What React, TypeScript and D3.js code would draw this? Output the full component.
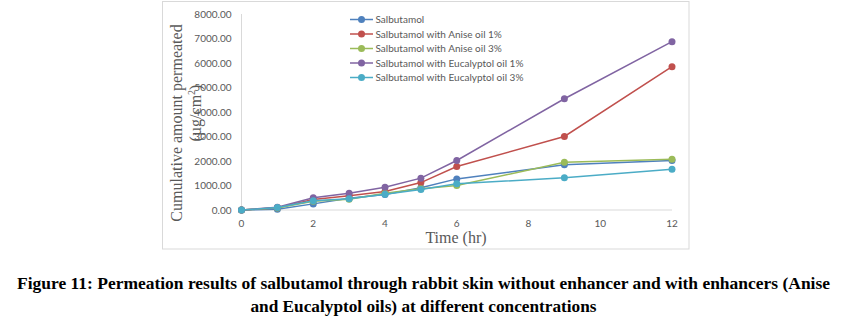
import React from "react";
import * as d3 from "d3";

const times = [0, 1, 2, 3, 4, 5, 6, 9, 12];
const seriesNames = [
  "Salbutamol",
  "Salbutamol with Anise oil 1%",
  "Salbutamol with Anise oil 3%",
  "Salbutamol with Eucalyptol oil 1%",
  "Salbutamol with Eucalyptol oil 3%",
];
const salbutamol = [0, 30, 250, 480, 630, 905, 1270, 1845, 2020];
const anise1 = [0, 90, 430, 580, 755, 1120, 1775, 3000, 5850];
const anise3 = [0, 80, 360, 440, 685, 865, 1000, 1950, 2070];
const euc1 = [0, 110, 500, 685, 930, 1300, 2020, 4540, 6870];
const euc3 = [0, 100, 375, 455, 645, 835, 1070, 1315, 1665];
const seriesValues = [salbutamol, anise1, anise3, euc1, euc3];
const colors = ["#4F81BD", "#C0504D", "#9BBB59", "#8064A2", "#4BACC6"];
const yTicks = [0, 1000, 2000, 3000, 4000, 5000, 6000, 7000, 8000];
const xTicks = [0, 2, 4, 6, 8, 10, 12];
const captionLines = [
  "Figure 11: Permeation results of salbutamol through rabbit skin without enhancer and with enhancers (Anise",
  "and Eucalyptol oils) at different concentrations",
];

export default function App() {
  const x = d3.scaleLinear().domain([0, 12]).range([241.5, 672]);
  const y = d3.scaleLinear().domain([0, 8000]).range([210, 14]);
  const line = d3
    .line<number>()
    .x((_, i) => x(times[i]))
    .y((d) => y(d));
  const tickFont = "Lato, 'Open Sans', sans-serif";
  return (
    <svg
      width={847}
      height={323}
      style={{ position: "absolute", left: 0, top: 0, background: "#fff" }}
    >
      <rect x={162.5} y={1.5} width={526.5} height={247.5} fill="#fff" stroke="#d9d9d9" strokeWidth={1} />
      <line x1={x(0)} x2={x(0)} y1={y(8000)} y2={y(0)} stroke="#d9d9d9" />
      <line x1={x(0)} x2={x(12)} y1={y(0)} y2={y(0)} stroke="#d9d9d9" />
      {yTicks.map((t) => (
        <text key={t} x={231.5} y={y(t)} dy="0.35em" textAnchor="end" fontSize={10} fill="#595959" fontFamily={tickFont}>
          {t.toFixed(2)}
        </text>
      ))}
      {xTicks.map((t) => (
        <text key={t} x={x(t)} y={223} dy="0.35em" textAnchor="middle" fontSize={10} fill="#595959" fontFamily={tickFont}>
          {t}
        </text>
      ))}
      <text x={456} y={243} textAnchor="middle" fontSize={16} fill="#595959" fontFamily="'Liberation Serif', serif">
        Time (hr)
      </text>
      <text transform="translate(182,123) rotate(-90)" textAnchor="middle" fontSize={16} fill="#595959" fontFamily="'Liberation Serif', serif">
        Cumulative amount permeated
      </text>
      <text transform="translate(201,113) rotate(-90)" textAnchor="middle" fontSize={16} fill="#595959" fontFamily="'Liberation Serif', serif">
        (µg/cm<tspan fontSize={10} dy={-6}>2</tspan><tspan dy={6}>)</tspan>
      </text>
      {seriesValues.map((vals, si) => (
        <g key={si}>
          <path d={line(vals) || ""} fill="none" stroke={colors[si]} strokeWidth={1.5} />
          {vals.map((v, i) => (
            <circle key={i} cx={x(times[i])} cy={y(v)} r={3.5} fill={colors[si]} />
          ))}
        </g>
      ))}
      {seriesNames.map((n, i) => {
        const ly = 19.5 + i * 14.5;
        return (
          <g key={n}>
            <line x1={350} x2={373} y1={ly} y2={ly} stroke={colors[i]} strokeWidth={1.5} />
            <circle cx={361.5} cy={ly} r={3.5} fill={colors[i]} />
            <text x={375.5} y={ly} dy="0.35em" fontSize={10} fill="#595959" fontFamily={tickFont}>
              {n}
            </text>
          </g>
        );
      })}
      {captionLines.map((l, i) => (
        <text
          key={i}
          x={423.5}
          y={289 + i * 23}
          textAnchor="middle"
          fontSize={16}
          fontWeight="bold"
          fontFamily="'Liberation Serif', serif"
          fill="#000"
          textLength={i === 0 ? 813 : 346}
          lengthAdjust="spacingAndGlyphs"
        >
          {l}
        </text>
      ))}
    </svg>
  );
}
